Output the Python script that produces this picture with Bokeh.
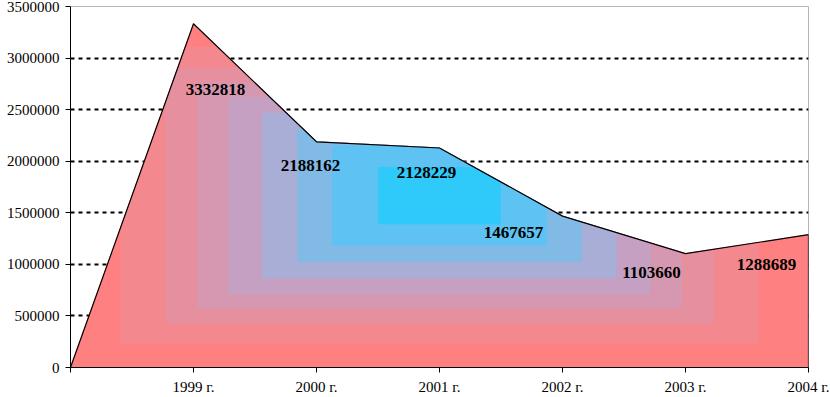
from bokeh.plotting import figure
from bokeh.models import Range1d, FixedTicker
from bokeh.core.properties import value
from bokeh.embed import file_html
from bokeh.resources import INLINE

# ---- data ----
years = ["", "1999 г.", "2000 г.", "2001 г.", "2002 г.", "2003 г.", "2004 г."]
values = [0, 3332818, 2188162, 2128229, 1467657, 1103660, 1288689]
y_ticks = [0, 500000, 1000000, 1500000, 2000000, 2500000, 3000000, 3500000]

# ---- styling (not data) ----
label_dx = [22, -6, -13, -49, -34, -42]
label_dy = [66, 24, 25, 16, 19, 30]
ring_fracs = [1.0, 0.864, 0.743, 0.656, 0.572, 0.480, 0.385, 0.290, 0.165]
ring_colors = ["#FF8080", "#F4888F", "#E6909F", "#D698B0", "#C6A0C2",
               "#A8AED6", "#82BAE6", "#5EC3F2", "#2FC9FA"]
SERIF = "Liberation Serif"

xs = list(range(len(values)))
area = [(x, v) for x, v in zip(xs, values)] + [(xs[-1], 0)]


def clip_poly(pts, xmin, xmax, ymin, ymax):
    def clip(pts, inside, inter):
        out = []
        n = len(pts)
        for i in range(n):
            cur, prev = pts[i], pts[i - 1]
            if inside(cur):
                if not inside(prev):
                    out.append(inter(prev, cur))
                out.append(cur)
            elif inside(prev):
                out.append(inter(prev, cur))
        return out

    def ix(c):
        return lambda a, b: (c, a[1] + (b[1] - a[1]) * (c - a[0]) / (b[0] - a[0]))

    def iy(c):
        return lambda a, b: (a[0] + (b[0] - a[0]) * (c - a[1]) / (b[1] - a[1]), c)

    pts = clip(pts, lambda p: p[0] >= xmin, ix(xmin))
    if pts:
        pts = clip(pts, lambda p: p[0] <= xmax, ix(xmax))
    if pts:
        pts = clip(pts, lambda p: p[1] >= ymin, iy(ymin))
    if pts:
        pts = clip(pts, lambda p: p[1] <= ymax, iy(ymax))
    return pts


p = figure(width=830, height=397, x_range=Range1d(0, xs[-1]),
           y_range=Range1d(0, y_ticks[-1]), output_backend="svg",
           toolbar_location=None, min_border_left=70, min_border_right=22,
           min_border_top=6, min_border_bottom=29)
p.background_fill_color = "white"
p.border_fill_color = "white"
p.outline_line_color = "#B4B4C4"
p.outline_line_width = 1

# grid
p.xgrid.visible = False
p.ygrid.ticker = FixedTicker(ticks=y_ticks[1:])
p.ygrid.grid_line_color = "black"
p.ygrid.grid_line_width = 2
p.ygrid.grid_line_dash = "4 4"

# axes
p.xaxis.ticker = FixedTicker(ticks=xs)
p.xaxis.major_label_overrides = {x: lab for x, lab in zip(xs, years)}
p.yaxis.ticker = FixedTicker(ticks=y_ticks)
p.yaxis.major_label_overrides = {t: str(t) for t in y_ticks}
for ax in (p.xaxis, p.yaxis):
    ax.axis_line_color = "black"
    ax.axis_line_width = 1
    ax.major_tick_line_color = "black"
    ax.major_tick_in = 0
    ax.major_tick_out = 5
    ax.minor_tick_line_color = None
    ax.major_label_text_font = SERIF
    ax.major_label_text_font_size = "15px"
    ax.major_label_text_color = "black"
p.yaxis.major_label_standoff = 6
p.xaxis.major_label_standoff = 6

# gradient fill: nested rectangles clipped to the area
ymax = max(values)
cx, cy = (xs[0] + xs[-1]) / 2, ymax / 2
hx, hy = (xs[-1] - xs[0]) / 2, ymax / 2
for f, col in zip(ring_fracs, ring_colors):
    poly = clip_poly(area, cx - hx * f, cx + hx * f, cy - hy * f, cy + hy * f)
    if len(poly) >= 3:
        p.patch([q[0] for q in poly], [q[1] for q in poly],
                fill_color=col, line_color=col, line_width=0.5)

# outline of the area
p.patch([q[0] for q in area], [q[1] for q in area], fill_color=None,
        line_color="black", line_width=1.2)

# data labels
p.text(x=xs[1:], y=values[1:], text=[str(v) for v in values[1:]],
       x_offset=label_dx, y_offset=label_dy,
       text_font=value(SERIF), text_font_style="bold",
       text_font_size="17px", text_color="black",
       text_align="center", text_baseline="middle")

open("out.html", "w").write(file_html(p, INLINE))
